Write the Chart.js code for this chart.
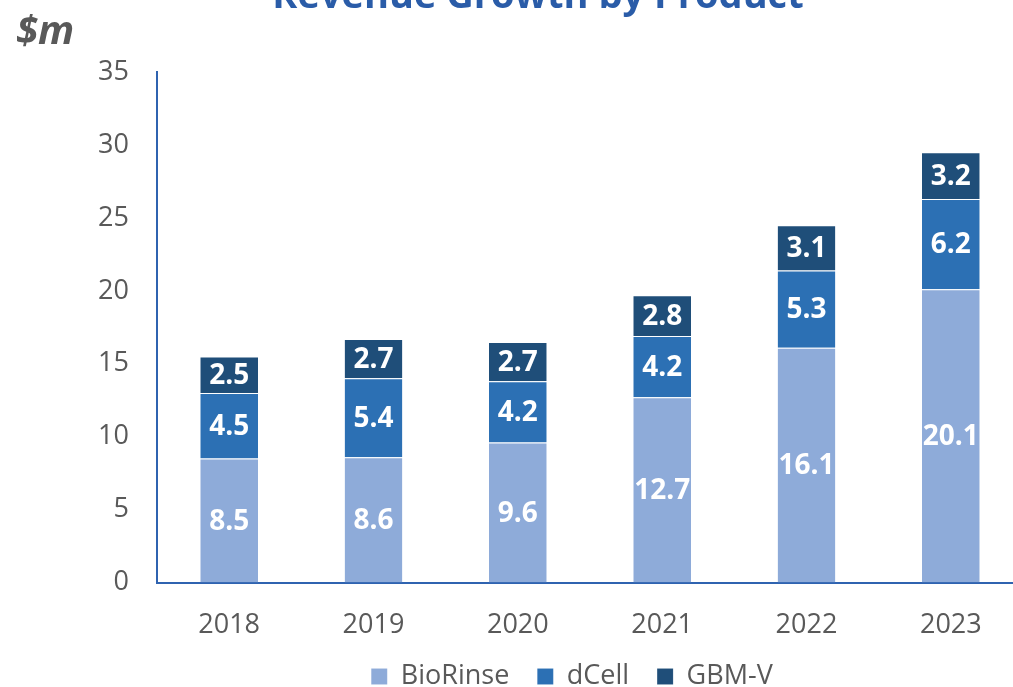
<!DOCTYPE html>
<html>
<head>
<meta charset="utf-8">
<script src="https://cdn.jsdelivr.net/npm/chart.js@4.4.1/dist/chart.umd.min.js"></script>
<style>
  html, body { margin: 0; padding: 0; background: #fff; overflow: hidden; }
  #wrap { position: relative; width: 1144px; height: 687px; }
</style>
</head>
<body>
<div id="wrap"><canvas id="revChart"></canvas></div>
<script>
const years = ['2018', '2019', '2020', '2021', '2022', '2023'];
const bioRinse = [8.5, 8.6, 9.6, 12.7, 16.1, 20.1];
const dCell = [4.5, 5.4, 4.2, 4.2, 5.3, 6.2];
const gbmV = [2.5, 2.7, 2.7, 2.8, 3.1, 3.2];
const yTicks = [0, 5, 10, 15, 20, 25, 30, 35];

const axisBlue = '#2f63b0';
const greyText = '#595959';

// title (cut off at top edge) and the "$m" unit label
const headerText = {
  id: 'headerText',
  afterDraw(chart) {
    const ctx = chart.ctx;
    ctx.save();
    ctx.fillStyle = '#2a5ca8';
    ctx.font = 'bold 38px "Open Sans", sans-serif';
    ctx.textAlign = 'center';
    ctx.textBaseline = 'alphabetic';
    ctx.fillText('Revenue Growth by Product', 538, 8);
    ctx.fillStyle = greyText;
    ctx.font = 'italic bold 40px "Open Sans", sans-serif';
    ctx.textAlign = 'left';
    ctx.fillText('$m', 16, 44);
    ctx.restore();
  },
};

// white value labels in the middle of each segment
const segmentLabels = {
  id: 'segmentLabels',
  afterDatasetsDraw(chart) {
    const ctx = chart.ctx;
    ctx.save();
    ctx.fillStyle = '#ffffff';
    ctx.font = 'bold 28px "Open Sans", sans-serif';
    ctx.textAlign = 'center';
    ctx.textBaseline = 'middle';
    chart.data.datasets.forEach((ds, i) => {
      const meta = chart.getDatasetMeta(i);
      meta.data.forEach((bar, j) => {
        const y = (bar.y + bar.base) / 2;
        ctx.fillText(ds.data[j].toFixed(1), bar.x, y + 1);
      });
    });
    ctx.restore();
  },
};

// legend keeps wide gaps between items but takes less height under the axis
const LEGEND_TRIM = 34;
const tightLegend = {
  id: 'tightLegend',
  afterInit(chart) {
    const lg = chart.legend;
    if (!lg) return;
    const fit = lg.fit;
    const draw = lg.draw;
    lg.fit = function () {
      fit.call(this);
      this.height -= LEGEND_TRIM;
    };
    lg.draw = function () {
      this.top -= LEGEND_TRIM;
      draw.call(this);
      this.top += LEGEND_TRIM;
    };
  },
};

const ctx = document.getElementById('revChart').getContext('2d');
new Chart(ctx, {
  type: 'bar',
  data: {
    labels: years,
    datasets: [
      { label: 'BioRinse', data: bioRinse, backgroundColor: '#8eabd9' },
      { label: 'dCell', data: dCell, backgroundColor: '#2c70b4' },
      { label: 'GBM-V', data: gbmV, backgroundColor: '#1f4e79' },
    ],
  },
  options: {
    responsive: true,
    maintainAspectRatio: false,
    animation: false,
    layout: { padding: { top: 72, bottom: -13, left: 0, right: 0 } },
    datasets: {
      bar: {
        barPercentage: 0.4,
        categoryPercentage: 1,
        borderColor: 'rgba(255,255,255,0.35)',
        borderWidth: { top: 1 },
        borderSkipped: 'bottom',
      },
    },
    scales: {
      x: {
        stacked: true,
        grid: { display: false, drawTicks: false },
        border: { color: axisBlue, width: 2 },
        ticks: { color: greyText, font: { size: 27, family: '"Open Sans", sans-serif' }, padding: 27 },
      },
      y: {
        stacked: true,
        min: 0,
        max: 35,
        afterBuildTicks: (s) => { s.ticks = yTicks.map(v => ({ value: v })); },
        afterFit: (s) => { s.width = 157; },
        grid: { display: false, drawTicks: false },
        border: { color: axisBlue, width: 2 },
        ticks: { color: greyText, font: { size: 27, family: '"Open Sans", sans-serif' }, padding: 28 },
      },
      spacer: {
        position: 'right',
        display: true,
        afterFit: (s) => { s.width = 121; },
        grid: { display: false, drawTicks: false },
        border: { display: false },
        ticks: { display: false },
      },
    },
    plugins: {
      legend: {
        position: 'bottom',
        labels: {
          color: greyText,
          font: { size: 27, family: '"Open Sans", sans-serif' },
          boxWidth: 16,
          boxHeight: 16,
          padding: 28,
        },
      },
      tooltip: { enabled: false },
    },
  },
  plugins: [tightLegend, headerText, segmentLabels],
});
</script>
</body>
</html>
